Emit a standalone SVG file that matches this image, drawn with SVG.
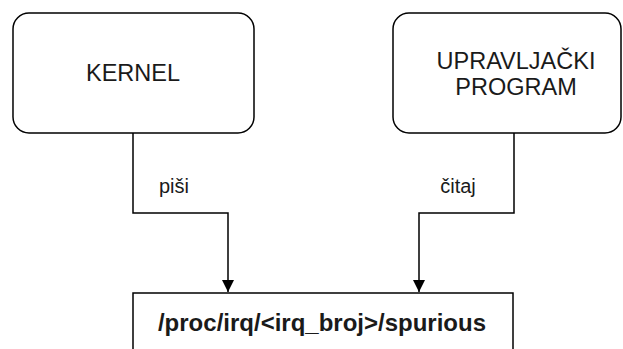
<svg xmlns="http://www.w3.org/2000/svg" width="623" height="349" viewBox="0 0 623 349">
<style>
.box{fill:#fff;stroke:#000;stroke-width:1.5}
.t{font-family:"Liberation Sans",Arial,sans-serif;fill:#1a1a1a;text-anchor:middle}
.n{font-size:23.5px}
.l{font-size:20px}
.b{font-size:24px;font-weight:bold}
.c{fill:none;stroke:#000;stroke-width:1.5}
</style>
<defs>
<marker id="ah" viewBox="0 0 12 12" refX="12" refY="6" markerWidth="12" markerHeight="12" markerUnits="userSpaceOnUse" orient="auto">
<path d="M0,0 L12,6 L0,12 Z" fill="#000"/>
</marker>
</defs>
<rect width="623" height="349" fill="#fff"/>
<g id="kernel">
<rect class="box" x="13" y="13" width="241" height="120" rx="16"/>
<text class="t n" x="133" y="81">KERNEL</text>
</g>
<g id="upravljacki">
<rect class="box" x="393" y="13" width="228" height="120" rx="16"/>
<text class="t n" x="516" y="69">UPRAVLJAČKI</text>
<text class="t n" x="516" y="95">PROGRAM</text>
</g>
<g id="spurious">
<rect class="box" x="133" y="293" width="380" height="70"/>
<text class="t b" x="322" y="331">/proc/irq/&lt;irq_broj&gt;/spurious</text>
</g>
<g id="connectors">
<path class="c" d="M133,133 V213 H228 V292" marker-end="url(#ah)"/>
<path class="c" d="M514,133 V213 H419 V292" marker-end="url(#ah)"/>
<text class="t l" x="174" y="193">piši</text>
<text class="t l" x="458" y="193">čitaj</text>
</g>
</svg>
